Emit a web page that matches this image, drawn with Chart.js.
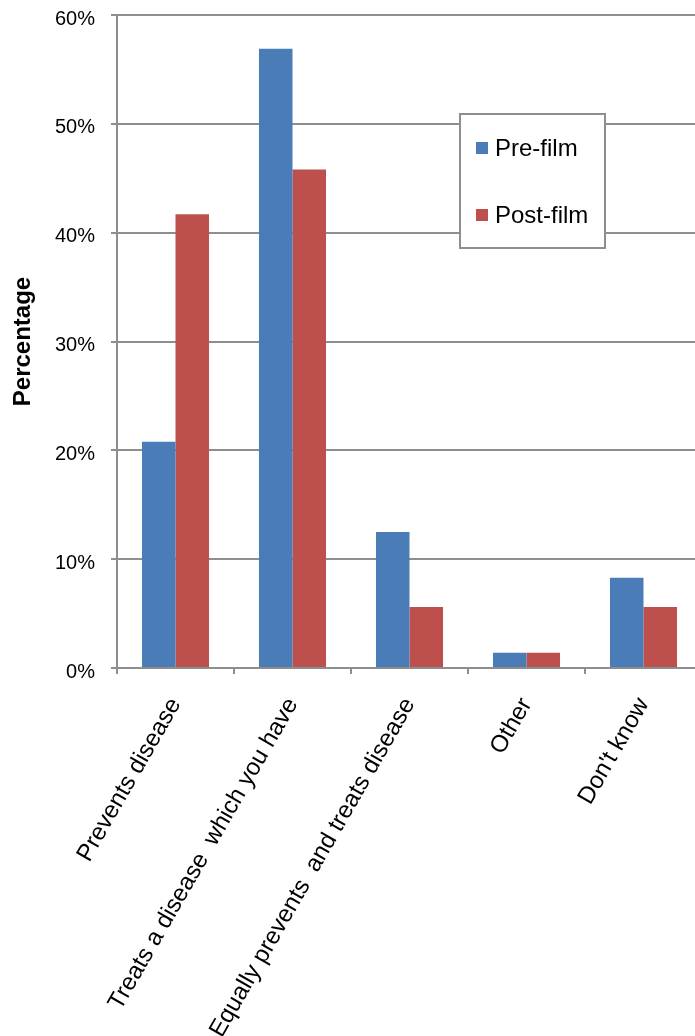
<!DOCTYPE html>
<html>
<head>
<meta charset="utf-8">
<script src="https://cdn.jsdelivr.net/npm/chart.js@4.4.1/dist/chart.umd.min.js"></script>
<style>
  html, body { margin: 0; padding: 0; background: #fff; overflow: hidden; }
  #wrap { position: absolute; left: 0; top: 0; width: 710px; height: 1036px; }
</style>
</head>
<body>
<div id="wrap"><canvas id="chart"></canvas></div>
<script>
// Survey answers, share of respondents (%)
const categories = [
  'Prevents disease',
  'Treats a disease  which you have',
  'Equally prevents  and treats disease',
  'Other',
  "Don't know"
];
const seriesNames = ['Pre-film', 'Post-film'];
const preFilm  = [20.8, 56.9, 12.5, 1.4, 8.3];
const postFilm = [41.7, 45.8, 5.6, 1.4, 5.6];
const yTicks = [0, 10, 20, 30, 40, 50, 60];

const BLUE = '#4a7db8';
const RED = '#bd4f4c';
const GRID = '#8e8e8e';
const FONT = '"Liberation Sans", Arial, sans-serif';

// Legend box drawn inside the plot area
const boxLegend = {
  id: 'boxLegend',
  afterDraw(chart) {
    const ctx = chart.ctx;
    const x = 460, y = 114, w = 145, h = 134;
    ctx.save();
    ctx.fillStyle = '#fff';
    ctx.fillRect(x, y, w, h);
    ctx.strokeStyle = GRID;
    ctx.lineWidth = 2;
    ctx.strokeRect(x, y, w, h);
    ctx.font = '24px ' + FONT;
    ctx.textBaseline = 'middle';
    ctx.textAlign = 'left';
    const rows = [149, 216];
    chart.data.datasets.forEach((ds, i) => {
      ctx.fillStyle = ds.backgroundColor;
      ctx.fillRect(476, rows[i] - 7, 12, 12);
      ctx.fillStyle = '#000';
      ctx.fillText(ds.label, 495, rows[i]);
    });
    ctx.restore();
  }
};

new Chart(document.getElementById('chart'), {
  type: 'bar',
  data: {
    labels: categories,
    datasets: [
      { label: seriesNames[0], data: preFilm, backgroundColor: BLUE },
      { label: seriesNames[1], data: postFilm, backgroundColor: RED }
    ]
  },
  plugins: [boxLegend],
  options: {
    responsive: true,
    maintainAspectRatio: false,
    animation: false,
    layout: { padding: { top: 15, right: 8, left: 0, bottom: 0 } },
    datasets: { bar: { categoryPercentage: 0.573, barPercentage: 1.0 } },
    plugins: {
      legend: { display: false },
      tooltip: { enabled: false }
    },
    scales: {
      x: {
        grid: {
          offset: true,
          drawOnChartArea: false,
          drawTicks: true,
          tickLength: 6,
          color: GRID,
          lineWidth: 2
        },
        border: { color: GRID, width: 2 },
        ticks: {
          autoSkip: false,
          minRotation: 60,
          maxRotation: 60,
          padding: 19,
          color: '#000',
          font: { family: FONT, size: 24 }
        },
        afterFit(scale) { scale.height = 368; }
      },
      y: {
        min: 0,
        max: 60,
        afterBuildTicks(scale) { scale.ticks = yTicks.map(v => ({ value: v })); },
        grid: {
          color: GRID,
          lineWidth: 2,
          drawTicks: true,
          tickLength: 6
        },
        border: { color: GRID, width: 2 },
        ticks: {
          padding: 16,
          labelOffset: 4,
          color: '#000',
          font: { family: FONT, size: 20 },
          callback: v => v + '%'
        },
        title: {
          display: true,
          text: 'Percentage',
          color: '#000',
          font: { family: FONT, size: 24, weight: 'bold' },
          padding: { top: 9, bottom: 0 }
        },
        afterFit(scale) {
          scale.width = 117;
          scale.paddingTop = 0;
          scale.paddingBottom = 0;
        }
      }
    }
  }
});
</script>
</body>
</html>
